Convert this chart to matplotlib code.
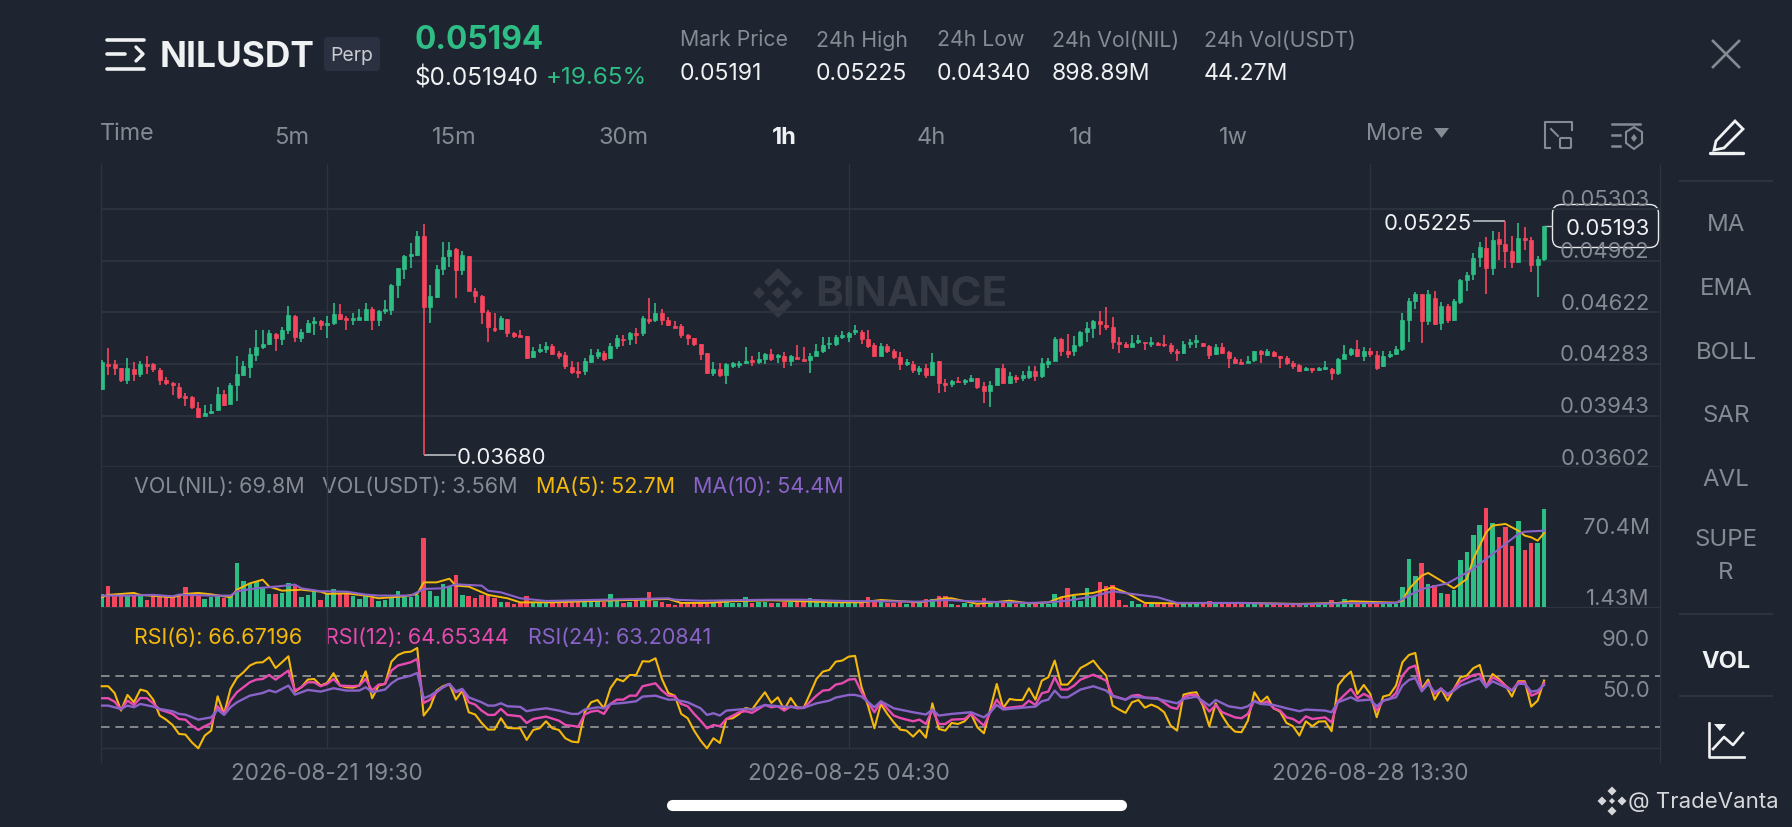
import matplotlib
matplotlib.use("Agg")
import matplotlib.pyplot as plt
from matplotlib.patches import FancyBboxPatch, Polygon

# === DATA (prices in 0.00001 units, volume in millions) ===
opens = [4119,4283,4279,4255,4180,4251,4218,4281,4279,4244,4178,4156,4130,4069,4064,3992,3939,3961,3976,4084,
         4016,4141,4213,4262,4343,4397,4411,4481,4448,4507,4601,4455,4492,4549,4562,4536,4551,4612,4584,4575,
         4575,4575,4641,4575,4628,4639,4803,4908,4992,5003,5123,4656,4726,4908,4990,5040,4898,4996,4766,4733,
         4623,4520,4514,4580,4485,4470,4465,4325,4369,4378,4400,4354,4343,4262,4233,4233,4294,4338,4354,4321,
         4400,4448,4444,4485,4485,4580,4575,4619,4569,4531,4531,4470,4452,4415,4354,4222,4251,4207,4272,4277,
         4288,4310,4294,4312,4349,4325,4334,4301,4327,4312,4308,4336,4367,4411,4411,4463,4461,4492,4496,4448,
         4404,4336,4400,4367,4327,4281,4279,4237,4255,4211,4299,4158,4150,4169,4163,4172,4187,4137,4104,4145,
         4255,4158,4196,4189,4194,4237,4202,4279,4303,4444,4365,4365,4404,4492,4518,4564,4540,4525,4426,4413,
         4393,4424,4428,4417,4422,4415,4404,4371,4354,4413,4426,4419,4400,4345,4391,4360,4316,4294,4290,4308,
         4369,4343,4360,4332,4323,4290,4275,4240,4255,4242,4246,4248,4222,4314,4345,4382,4332,4365,4343,4268,
         4332,4345,4378,4569,4698,4744,4562,4718,4553,4661,4569,4693,4832,4876,4985,5047,4915,5106,5073,5025,
         4955,5110,5101,4935,4974]
closes = [4294,4272,4257,4178,4255,4218,4283,4272,4246,4180,4156,4141,4064,4060,3998,3935,3961,3974,4086,4014,
          4141,4218,4266,4345,4393,4415,4487,4452,4509,4606,4459,4492,4553,4562,4536,4551,4612,4580,4569,4586,
          4590,4641,4575,4630,4643,4805,4911,4992,5005,5123,4656,4729,4908,4985,5036,4898,5001,4766,4733,4623,
          4525,4503,4584,4485,4465,4463,4321,4367,4382,4400,4349,4334,4266,4229,4224,4299,4343,4360,4312,4400,
          4455,4437,4485,4474,4584,4566,4619,4569,4536,4522,4470,4452,4415,4349,4222,4251,4207,4279,4290,4292,
          4305,4294,4316,4347,4312,4340,4305,4334,4312,4301,4334,4371,4404,4422,4461,4476,4487,4507,4448,4400,
          4332,4400,4369,4325,4279,4294,4240,4257,4213,4294,4156,4145,4172,4161,4178,4189,4130,4104,4145,4253,
          4158,4200,4185,4213,4237,4204,4286,4303,4448,4369,4351,4408,4490,4518,4562,4544,4527,4426,4411,4393,
          4422,4437,4419,4426,4404,4404,4369,4356,4415,4426,4437,4402,4343,4391,4356,4321,4290,4281,4305,4369,
          4345,4365,4334,4321,4286,4266,4235,4257,4240,4255,4262,4224,4314,4349,4378,4332,4365,4347,4259,4338,
          4349,4380,4573,4696,4744,4562,4744,4547,4661,4569,4698,4832,4871,4981,5051,4915,5101,5073,5025,4957,
          5110,5099,4935,4974,5193]
highs = [4310,4387,4310,4257,4323,4294,4301,4334,4288,4255,4196,4163,4156,4093,4069,4031,4014,4020,4130,4112,
         4156,4338,4305,4389,4507,4507,4503,4487,4525,4667,4606,4514,4573,4590,4569,4601,4683,4678,4601,4617,
         4641,4683,4656,4639,4705,4810,4915,5001,5077,5161,5205,4805,4935,5084,5084,5044,5025,4996,4783,4737,
         4639,4619,4597,4580,4496,4509,4465,4393,4415,4426,4415,4365,4360,4305,4294,4321,4382,4382,4371,4419,
         4474,4470,4492,4518,4595,4715,4685,4645,4593,4564,4544,4481,4455,4415,4354,4294,4290,4288,4294,4301,
         4393,4338,4360,4354,4382,4349,4360,4343,4408,4393,4354,4415,4463,4463,4476,4498,4492,4538,4509,4507,
         4419,4422,4417,4378,4360,4316,4299,4268,4279,4356,4303,4185,4178,4196,4185,4207,4191,4163,4167,4255,
         4281,4229,4211,4233,4268,4266,4321,4323,4459,4452,4481,4465,4498,4558,4569,4630,4656,4590,4463,4430,
         4474,4470,4430,4457,4426,4474,4419,4382,4433,4448,4476,4422,4408,4413,4422,4371,4329,4312,4338,4371,
         4373,4382,4367,4338,4334,4301,4279,4262,4257,4262,4301,4255,4321,4404,4389,4441,4397,4387,4365,4365,
         4365,4400,4617,4715,4755,4744,4770,4764,4689,4678,4707,4843,4891,5014,5088,5117,5156,5150,5225,5123,
         5211,5183,5117,4996,5194]
lows = [4108,4213,4207,4163,4152,4167,4196,4218,4229,4141,4141,4080,4049,4005,3983,3928,3937,3955,3972,4005,
        4014,4038,4200,4191,4299,4382,4404,4371,4408,4481,4430,4430,4487,4470,4503,4452,4540,4575,4503,4536,
        4569,4562,4503,4531,4612,4606,4718,4843,4913,4996,3680,4553,4718,4865,4924,4715,4869,4762,4685,4547,
        4426,4496,4503,4457,4452,4461,4316,4321,4354,4354,4343,4316,4246,4218,4191,4211,4290,4316,4299,4316,
        4378,4400,4408,4411,4465,4544,4558,4536,4531,4520,4452,4408,4400,4310,4215,4200,4196,4152,4255,4257,
        4283,4272,4279,4279,4303,4288,4257,4268,4308,4301,4226,4334,4354,4378,4400,4448,4426,4470,4415,4387,
        4325,4334,4356,4316,4244,4270,4222,4213,4189,4202,4093,4097,4130,4156,4141,4163,4119,4027,3998,4141,
        4150,4152,4154,4167,4183,4172,4191,4259,4299,4334,4321,4338,4393,4430,4452,4470,4503,4382,4354,4389,
        4393,4411,4376,4397,4402,4397,4349,4301,4349,4389,4387,4391,4312,4343,4349,4253,4283,4279,4288,4294,
        4288,4332,4329,4255,4277,4251,4229,4235,4226,4235,4244,4174,4211,4312,4338,4327,4301,4327,4244,4262,
        4323,4343,4371,4430,4641,4422,4536,4540,4509,4553,4564,4678,4766,4832,4919,4744,4869,4968,4913,4913,
        4952,5036,4891,4722,4963]
volumes = [9.5,15.4,8.3,7.8,7.8,7.8,7.8,5.2,8.3,7.1,7.1,7.1,9.5,14.2,9.0,7.8,6.2,7.1,7.8,6.4,
           8.3,31.2,18.5,16.6,17.7,14.2,9.5,9.5,10.2,17.3,15.4,7.6,9.0,11.8,5.4,9.9,13.0,9.9,9.5,7.8,
           5.9,8.3,6.4,4.3,5.4,6.4,11.8,7.1,7.1,8.8,49.2,11.8,8.3,16.6,14.7,23.2,8.8,7.8,6.6,8.8,
           8.8,6.4,3.5,3.5,2.4,2.8,8.0,3.5,3.5,4.0,3.5,3.1,5.4,4.3,4.3,3.5,4.3,4.3,3.5,9.5,
           4.7,3.1,4.0,5.4,4.7,11.1,4.3,3.5,2.4,1.9,2.8,2.8,2.8,3.1,2.8,3.1,2.8,5.4,3.1,2.8,
           7.3,3.1,3.5,3.5,3.3,3.3,3.5,3.5,3.8,4.3,6.6,4.7,4.3,3.5,2.8,2.8,3.1,2.8,3.1,7.1,
           4.5,4.7,2.8,2.8,3.5,2.4,2.8,2.8,5.7,5.9,7.8,8.3,2.6,1.7,2.8,2.6,1.9,6.4,2.8,2.8,
           4.3,3.3,2.4,2.4,3.1,2.8,2.8,2.6,9.5,7.6,13.5,8.3,4.3,13.5,8.3,17.7,15.4,16.1,5.4,1.9,
           4.3,2.4,2.4,2.4,2.4,2.4,2.4,2.4,2.4,2.6,2.8,3.3,4.7,2.8,3.1,3.1,3.3,2.4,2.4,2.4,
           2.1,2.1,2.1,2.1,2.1,2.1,2.1,2.1,2.1,2.1,2.1,5.0,2.4,5.7,2.4,3.1,2.8,2.8,2.8,2.8,
           2.8,2.4,14.7,34.3,22.0,31.5,16.6,15.6,10.2,9.2,12.3,33.8,39.5,51.3,58.4,70.5,59.6,50.2,56.8,43.3,
           61.5,40.7,45.7,45.7,69.8]

ma5_idx = [0,1,5,6,9,11,13,15,17,20,21,23,25,26,28,31,34,35,38,41,43,47,49,50,52,54,55,57,60,63,65,67,70,78,88,
           90,94,98,104,114,118,121,127,131,132,136,141,144,147,149,151,154,157,159,162,167,177,
           186,192,194,201,202,203,205,206,208,210,212,213,215,216,218,220,221,222,223,224]
ma5 = [7.1,8.8,10.2,8.8,7.8,7.1,9.5,10.2,9.2,7.1,12.5,17.0,19.6,14.7,11.8,12.5,11.1,9.5,9.9,8.3,6.4,7.8,9.5,17.7,17.7,20.3,15.4,14.7,8.8,6.4,3.5,3.5,3.5,4.7,5.9,
       3.1,3.1,4.3,5.0,3.5,3.5,5.2,3.5,6.4,6.4,2.4,4.7,2.8,3.5,7.1,8.8,10.2,14.2,10.6,3.1,2.8,3.1,
       2.4,3.1,4.3,3.3,4.7,13.0,22.5,24.4,18.9,13.5,20.1,34.3,53.2,58.0,59.2,54.4,50.9,49.7,47.3,52.7]
ma10_idx = [0,4,8,11,12,17,20,21,24,27,30,31,34,38,41,43,48,50,53,55,59,60,62,65,69,78,88,
            89,93,104,109,115,127,131,135,144,147,150,154,157,160,164,167,177,
            186,192,201,203,205,209,213,216,220,221,224]
ma10 = [8.3,8.3,8.8,7.8,9.0,8.3,8.3,11.4,13.5,14.7,16.1,13.5,11.4,11.1,9.0,8.3,8.3,13.0,13.5,16.3,15.4,11.8,10.6,6.4,4.5,5.4,6.4,
        5.4,4.7,5.4,5.4,4.5,4.0,5.2,4.3,3.1,3.5,4.7,7.8,11.4,9.5,7.1,3.1,3.1,
        2.1,2.8,3.1,8.3,13.0,17.0,27.2,37.9,52.1,53.7,54.4]

rsi6 = [62.2,62.2,56.9,43.1,55.4,49.6,59.6,58.2,51.7,39.2,36.0,31.8,24.8,24.3,18.2,13.5,23.5,27.4,54.3,40.5,
        60.1,68.7,73.1,78.4,80.7,81.0,84.9,76.5,81.0,85.7,58.0,61.4,67.4,67.9,62.7,64.8,72.4,62.7,61.4,61.1,
        62.7,73.9,52.8,62.7,64.0,81.5,86.7,88.8,89.3,92.2,39.2,45.7,58.8,62.2,64.0,51.7,58.8,41.8,40.0,33.4,
        28.2,28.2,37.1,29.5,29.2,29.2,20.1,27.9,29.2,34.7,29.2,27.9,21.4,18.8,18.2,41.8,49.6,51.4,44.9,60.6,
        67.9,66.1,71.0,71.0,81.8,81.5,84.1,67.9,56.9,54.8,40.5,37.1,27.4,19.6,13.5,21.4,17.7,36.5,37.1,40.5,
        45.2,43.9,50.9,57.5,49.1,53.5,43.9,53.0,45.7,45.2,56.2,67.9,73.7,75.0,81.5,82.3,85.4,86.0,61.4,47.0,
        29.2,48.3,40.5,33.9,28.2,27.4,22.7,27.9,21.9,48.8,28.7,27.4,33.4,32.6,34.7,40.5,30.0,25.3,44.4,64.0,
        45.2,52.2,51.4,51.4,60.6,51.7,66.6,69.2,82.3,63.5,63.5,69.2,76.5,79.2,82.3,75.8,70.5,47.0,43.9,41.3,
        49.6,51.4,45.4,47.8,45.7,41.8,31.3,27.4,55.6,56.9,57.5,47.0,30.8,48.8,39.2,31.3,26.6,26.1,35.2,57.5,
        49.6,54.1,44.9,42.3,33.4,30.8,23.5,34.7,30.8,34.5,34.7,26.9,62.7,69.2,73.7,56.2,63.2,56.2,37.9,54.1,
        55.4,62.7,81.0,86.7,88.3,60.1,67.4,51.7,60.1,50.9,60.1,69.2,70.5,76.3,78.9,61.4,71.8,67.9,62.7,54.1,
        66.1,66.1,46.2,50.9,66.67]

rsi12_idx = [0,1,2,3,4,5,6,7,8,9,10,11,12,13,14,15,16,17,18,19,20,21,22,23,24,25,26,27,29,30,31,32,33,34,35,36,37,39,40,41,42,43,44,45,46,48,49,
             50,51,52,53,54,55,56,57,58,59,60,61,62,63,65,66,67,69,71,72,74,75,76,77,78,79,80,81,82,83,84,86,87,88,
             89,90,91,92,93,94,95,96,97,99,100,101,103,104,105,106,107,108,109,111,112,113,114,115,116,117,118,120,121,123,124,126,127,128,129,130,131,132,134,135,137,138,139,140,143,144,145,146,147,148,149,150,151,152,154,156,157,159,160,161,162,164,166,167,168,169,170,172,173,174,176,
             177,178,179,180,181,182,183,184,185,186,187,188,190,191,192,193,194,195,196,197,198,199,200,201,202,203,204,205,206,207,208,209,210,211,213,214,215,216,217,218,219,220,221,222,223,224]
rsi12 = [52.8,52.8,50.1,43.9,50.9,47.5,53.0,52.8,48.8,43.9,42.3,40.5,36.5,36.0,31.3,27.9,30.8,33.2,46.5,40.5,50.9,57.5,61.4,65.3,67.4,67.9,71.0,67.4,74.5,58.8,61.4,65.3,65.3,62.2,64.0,67.9,62.7,62.2,62.7,67.9,58.8,63.5,64.0,74.5,78.4,81.0,83.6,
         49.1,51.7,57.5,61.4,64.0,57.5,59.6,49.6,47.8,43.1,39.7,39.7,44.4,39.7,38.6,33.4,36.5,38.4,35.2,31.8,30.5,40.0,42.3,43.1,40.5,48.3,51.7,51.7,54.8,54.8,62.2,64.5,58.8,54.8,
         54.3,48.3,46.5,40.5,35.2,29.2,31.8,30.8,36.5,41.8,42.6,41.3,47.5,45.7,46.5,43.1,46.5,44.9,45.2,54.8,58.8,59.3,63.5,64.5,67.4,67.9,57.5,41.8,50.1,39.2,37.3,34.7,36.0,32.6,43.9,32.6,32.6,36.0,36.5,40.5,31.3,41.8,51.7,44.9,46.5,50.9,47.5,56.7,58.0,69.2,59.6,59.6,62.7,67.4,71.3,66.6,54.8,51.7,54.8,55.4,53.3,52.8,45.7,44.4,53.5,55.4,55.4,42.3,47.5,41.8,37.8,
         37.1,40.5,50.9,48.3,50.4,44.9,43.1,37.8,36.5,33.4,38.6,36.5,37.8,33.9,50.4,55.4,60.1,52.8,56.2,53.5,43.1,50.9,52.2,56.9,70.5,76.5,78.4,58.8,65.3,56.2,60.6,54.8,60.1,65.8,71.0,71.8,62.2,69.2,66.6,62.7,58.8,65.3,65.3,54.8,56.9,64.65]

rsi24_idx = [0,1,3,4,5,6,8,9,11,12,13,15,17,18,19,20,21,23,25,26,27,29,30,32,34,36,38,40,41,42,44,45,46,48,49,50,51,53,54,55,56,57,59,60,61,62,63,65,66,67,69,71,73,74,75,77,78,79,81,83,84,86,88,
             89,91,93,94,95,96,97,100,101,103,105,109,111,113,114,116,117,118,120,121,123,126,128,129,130,132,135,137,138,139,140,143,145,146,147,148,149,150,152,154,156,157,159,160,164,167,168,170,172,173,175,177,
             178,179,180,182,184,186,187,190,191,192,194,195,197,198,199,201,202,203,204,205,206,207,208,209,210,211,213,214,215,216,218,219,220,221,222,223,224]
rsi24 = [47.0,47.0,44.4,47.0,45.7,48.3,46.2,44.4,42.6,40.5,39.9,36.0,37.8,43.9,39.7,45.7,49.6,54.8,56.9,59.0,57.5,62.7,55.6,59.3,58.0,60.6,58.8,58.8,61.4,57.5,59.6,64.5,67.9,70.5,72.6,52.8,54.8,61.4,64.0,58.2,60.1,53.5,49.6,47.0,47.0,48.8,46.5,46.0,42.6,43.6,44.9,43.1,40.5,40.5,43.9,45.7,44.9,48.3,49.1,50.4,54.1,54.8,51.7,
         51.7,49.6,44.9,39.7,41.0,39.2,43.1,44.4,43.9,47.5,46.5,45.2,48.8,50.9,53.3,55.4,55.4,54.1,45.7,50.4,44.9,41.8,40.0,43.9,39.2,40.5,41.8,37.8,41.8,47.5,43.9,45.4,46.2,50.4,51.7,58.8,53.5,53.5,59.6,62.2,58.8,54.3,51.7,54.1,52.2,48.8,52.2,54.1,47.0,51.4,46.5,44.9,
         46.5,50.4,48.3,47.5,44.9,42.6,43.9,43.1,41.8,49.6,53.5,50.9,51.7,46.5,50.9,53.5,62.7,67.1,68.7,58.2,64.0,57.5,60.1,56.2,58.8,62.7,66.6,68.4,61.4,66.1,61.4,58.8,64.0,64.0,58.0,58.8,63.20]

# tick values and labels
price_ticks = [5303, 4962, 4622, 4283, 3943, 3602]
vol_ticks = [70.4, 1.43]
vol_tick_labels = ["70.4M", "1.43M"]
rsi_ticks = [90, 50]
rsi_bands = [70, 30]
date_idx = [35, 116, 197]
date_labels = ["2026-08-21 19:30", "2026-08-25 04:30", "2026-08-28 13:30"]
low_idx, low_price = 50, 3680
high_idx, high_price = 218, 5225
last_price = 5193

stats_names = ["Mark Price", "24h High", "24h Low", "24h Vol(NIL)", "24h Vol(USDT)"]
stats_values = ["0.05191", "0.05225", "0.04340", "898.89M", "44.27M"]
intervals = ["5m", "15m", "30m", "1h", "4h", "1d", "1w"]
side_items = ["MA", "EMA", "BOLL", "SAR", "AVL"]

# === COLOURS ===
BG = "#1e2430"
GRID = "#2e343f"
GRAY = "#858a93"
WHITE = "#f0f1f3"
GREEN = "#2ebd85"
RED = "#f6465d"
YELLOW = "#f5b90c"
PINK = "#e84bb0"
PURPLE = "#8a63c8"

plt.rcParams["font.family"] = ["Inter", "DejaVu Sans"]

W, H = 1792, 828
fig = plt.figure(figsize=(W / 100, H / 100), dpi=100, facecolor=BG)

# pixel coordinates for everything that is not chart data
ui = fig.add_axes([0, 0, 1, 1], zorder=0, facecolor=BG)
ui.set_xlim(0, W)
ui.set_ylim(H, 0)
ui.axis("off")


def label(x, y, s, **kw):
    # text box centre sits a little above the glyphs, so push down
    kw.setdefault("va", "center")
    ui.text(x, y + 2.5, s, **kw)


def panel(top, bottom):
    a = fig.add_axes([101 / W, 1 - bottom / H, (1660 - 101) / W, (bottom - top) / H], zorder=1)
    a.patch.set_alpha(0)
    a.set_xlim(-0.11, 242.0)
    a.set_xticks(date_idx)
    a.set_xticklabels([])
    a.tick_params(length=0)
    a.grid(True, axis="x", color=GRID, lw=1.0)
    a.set_axisbelow(True)
    for s in a.spines.values():
        s.set_visible(False)
    return a


def right_labels(a, values, labels, dy, size=15.9):
    for v, lab in zip(values, labels):
        a.annotate(lab, (1, v), xycoords=a.get_yaxis_transform(), xytext=(-10.5, dy),
                   textcoords="offset pixels", ha="right", va="center", color=GRAY, fontsize=size)


ax_price = panel(165, 468.3)
ax_vol = panel(468.3, 608.3)
ax_rsi = panel(608.3, 749)

# === PRICE PANEL ===
xs = list(range(len(closes)))
colors = [GREEN if c >= o else RED for o, c in zip(opens, closes)]
ax_price.set_ylim(3602, 5599)
ax_price.set_yticks(price_ticks)
ax_price.set_yticklabels([])
ax_price.grid(True, axis="y", color=GRID, lw=1.3)
ax_price.vlines(xs, lows, highs, colors=colors, lw=1.2, zorder=3)
ax_price.bar(xs, [abs(c - o) for o, c in zip(opens, closes)], bottom=[min(o, c) for o, c in zip(opens, closes)],
             width=0.62, color=colors, edgecolor=colors, lw=0.5, zorder=4)
right_labels(ax_price, price_ticks, [f"0.0{v}" for v in price_ticks], 9.5)

ax_price.hlines(low_price, low_idx, low_idx + 5, color="#b9bcc2", lw=1.2, zorder=2)
ax_price.annotate(f"0.0{low_price}", (low_idx + 5, low_price), xytext=(1, -2), textcoords="offset pixels",
                  ha="left", va="center", color=WHITE, fontsize=15.9)
ax_price.hlines(high_price, high_idx - 5.1, high_idx, color="#b9bcc2", lw=1.2, zorder=2)
ax_price.annotate(f"0.0{high_price}", (high_idx - 5.1, high_price), xytext=(-1, -2), textcoords="offset pixels",
                  ha="right", va="center", color=WHITE, fontsize=15.9)
ax_price.hlines(last_price, xs[-1], xs[-1] + 1.3, color="#b9bcc2", lw=1.0, zorder=2)
ui.add_patch(FancyBboxPatch((1558, 211), 95, 32, boxstyle="round,pad=5.5,rounding_size=9", fc="none",
                            ec="#e8e9eb", lw=1.0, zorder=6))
ax_price.annotate(f"0.0{last_price}", (1, last_price), xycoords=ax_price.get_yaxis_transform(), xytext=(-10.5, -2.5),
                  textcoords="offset pixels", ha="right", va="center", color=WHITE, fontsize=15.9, zorder=7)

# === VOLUME PANEL ===
ax_vol.set_ylim(0, 99.4)
ax_vol.bar(xs, volumes, width=0.7, color=colors, zorder=3)
ax_vol.plot(ma5_idx, ma5, color=YELLOW, lw=1.4, zorder=4)
ax_vol.plot(ma10_idx, ma10, color=PURPLE, lw=1.5, zorder=5)
ax_vol.set_yticks([])
ax_vol.spines["bottom"].set_visible(True)
ax_vol.spines["bottom"].set_color(GRID)
ax_vol.spines["bottom"].set_linewidth(1.0)
ax_vol.annotate(vol_tick_labels[0], (1, vol_ticks[0]), xycoords=ax_vol.get_yaxis_transform(), xytext=(-10.5, -18.5),
                textcoords="offset pixels", ha="right", va="center", color=GRAY, fontsize=15.9)
ax_vol.annotate(vol_tick_labels[1], (1, vol_ticks[1]), xycoords=ax_vol.get_yaxis_transform(), xytext=(-10.5, 7.5),
                textcoords="offset pixels", ha="right", va="center", color=GRAY, fontsize=15.9)

# === RSI PANEL ===
ax_rsi.set_ylim(13.76, 124.1)
for band in rsi_bands:
    ax_rsi.axhline(band, color="#85878b", lw=1.4, dashes=(4.4, 3.0), zorder=2)
ax_rsi.plot(xs, rsi6, color=YELLOW, lw=1.5, zorder=4, clip_on=False)
ax_rsi.plot(rsi12_idx, rsi12, color=PINK, lw=1.7, zorder=5)
ax_rsi.plot(rsi24_idx, rsi24, color=PURPLE, lw=1.7, zorder=6)
ax_rsi.set_yticks([])
right_labels(ax_rsi, rsi_ticks, [f"{v:.1f}" for v in rsi_ticks], 11.5)
ax_rsi.spines["bottom"].set_visible(True)
ax_rsi.spines["bottom"].set_color(GRID)
ax_rsi.spines["bottom"].set_linewidth(1.0)
ax_rsi.set_xticklabels(date_labels, color=GRAY, fontsize=16.2)
ax_rsi.tick_params(axis="x", pad=10)

# chart frame lines that run below the axes
ui.plot([101, 101], [165, 763], color=GRID, lw=1.0)
ui.plot([1660, 1660], [165, 763], color=GRID, lw=1.0)

# === LEGENDS ===
label(133.5, 485, "VOL(NIL): 69.8M", color=GRAY, fontsize=15.5)
label(322, 485, "VOL(USDT): 3.56M", color=GRAY, fontsize=15.5)
label(536, 485, "MA(5): 52.7M", color=YELLOW, fontsize=15.5)
label(693, 485, "MA(10): 54.4M", color=PURPLE, fontsize=15.5)
label(133.5, 636, "RSI(6): 66.67196", color=YELLOW, fontsize=15.5)
label(325, 636, "RSI(12): 64.65344", color=PINK, fontsize=15.5)
label(528, 636, "RSI(24): 63.20841", color=PURPLE, fontsize=15.5)

# === BINANCE WATERMARK ===
mark = "#343943"
cx, cy = 778, 294
for dx, dy, r in [(0, 0, 6), (-19, 0, 6), (19, 0, 6)]:
    ui.add_patch(Polygon([(cx + dx - r, cy + dy), (cx + dx, cy + dy - r), (cx + dx + r, cy + dy), (cx + dx, cy + dy + r)],
                         fc=mark, ec="none"))
ui.add_patch(Polygon([(cx - 14, cy - 11), (cx, cy - 25), (cx + 14, cy - 11), (cx + 9, cy - 6), (cx, cy - 15), (cx - 9, cy - 6)], fc=mark, ec="none"))
ui.add_patch(Polygon([(cx - 14, cy + 11), (cx, cy + 25), (cx + 14, cy + 11), (cx + 9, cy + 6), (cx, cy + 15), (cx - 9, cy + 6)], fc=mark, ec="none"))
label(815, 293, "BINANCE", color=mark, fontsize=30.4, fontweight="bold")

# === HEADER ===
ui.plot([107, 144], [40.5, 40.5], color=WHITE, lw=2.6, solid_capstyle="round")
ui.plot([107, 125], [55, 55], color=WHITE, lw=2.6, solid_capstyle="round")
ui.plot([107, 144], [70, 70], color=WHITE, lw=2.6, solid_capstyle="round")
ui.plot([136, 143, 136], [48, 55, 62], color=WHITE, lw=2.4, solid_capstyle="round")
label(160, 55, "NILUSDT", color=WHITE, fontsize=25.4, fontweight="bold")
ui.add_patch(FancyBboxPatch((327, 41), 50, 28, boxstyle="round,pad=3,rounding_size=4", fc="#2b3140", ec="none"))
label(352, 53.5, "Perp", color="#c9ccd1", fontsize=14, ha="center")
label(414, 38, "0.05194", color=GREEN, fontsize=22.8, fontweight="bold")
label(414, 75.5, "$0.051940", color=WHITE, fontsize=17.5)
label(546, 75.5, "+19.65%", color=GREEN, fontsize=17.4)

stats_x = [680, 816, 937, 1052, 1204]
for x, name, val in zip(stats_x, stats_names, stats_values):
    label(x, 38, name, color=GRAY, fontsize=15.3)
    label(x, 71, val, color=WHITE, fontsize=16.6)

# X button
ui.plot([1713, 1739], [42, 68], color=GRAY, lw=1.9)
ui.plot([1739, 1713], [42, 68], color=GRAY, lw=1.9)

# === INTERVAL ROW ===
label(100, 131.5, "Time", color=GRAY, fontsize=16.8)
interval_x = [291.5, 454.5, 624, 784, 931, 1081, 1233]
for x, lab in zip(interval_x, intervals):
    active = lab == "1h"
    label(x, 135, lab, color=WHITE if active else GRAY, fontsize=17,
          fontweight="bold" if active else "normal", ha="center")
label(1366, 132, "More", color=GRAY, fontsize=16.8)
ui.add_patch(Polygon([(1434, 129), (1449, 129), (1441.5, 139)], fc=GRAY, ec="none"))

# layout and settings icons
ui.plot([1558, 1545, 1545, 1550], [123, 123, 149, 149], color=GRAY, lw=1.5)
ui.plot([1558, 1572, 1572], [123, 123, 131], color=GRAY, lw=1.5)
ui.add_patch(FancyBboxPatch((1560, 139), 11, 10, boxstyle="round,pad=0,rounding_size=1", fc="none", ec=GRAY, lw=1.5))
ui.plot([1551, 1558], [130, 137], color=GRAY, lw=1.5)
ui.plot([1612, 1640], [125, 125], color=GRAY, lw=1.8)
ui.plot([1612, 1620], [136, 136], color=GRAY, lw=1.8)
ui.plot([1612, 1620], [147, 147], color=GRAY, lw=1.8)
ui.add_patch(Polygon([(1634, 128), (1642, 133), (1642, 144), (1634, 150), (1626, 144), (1626, 133)], fc="none", ec=GRAY, lw=1.5))
ui.add_patch(Polygon([(1634, 135), (1637, 139), (1634, 143), (1631, 139)], fc=GRAY, ec="none"))

# === SIDEBAR ===
ui.add_patch(Polygon([(1716, 142), (1735, 122), (1743, 130), (1724, 149), (1714, 151)], fc="none", ec=WHITE, lw=2.0))
ui.plot([1710, 1743], [154, 154], color=WHITE, lw=2.4, solid_capstyle="round")
for y in [182, 615, 697]:
    ui.plot([1680, 1772], [y, y], color="#2e343f", lw=1.6)
for y, lab in zip([223, 287, 351, 414, 478], side_items):
    label(1726, y, lab, color=GRAY, fontsize=17.3, ha="center")
label(1726, 538, "SUPE", color=GRAY, fontsize=17.3, ha="center")
label(1726, 571, "R", color=GRAY, fontsize=17.3, ha="center")
label(1726, 660, "VOL", color=WHITE, fontsize=17, fontweight="bold", ha="center")
ui.plot([1709, 1709, 1744], [724, 758, 758], color=WHITE, lw=1.9)
ui.plot([1713, 1724, 1733, 1743], [750, 738, 746, 734], color=WHITE, lw=1.9)
ui.add_patch(Polygon([(1714, 725), (1726, 725), (1720, 732)], fc=WHITE, ec="none"))

# === FOOTER ===
ui.plot([672, 1121], [806, 806], color="white", lw=8, solid_capstyle="round")
label(1628, 800, "@ TradeVanta", color="#d6d7da", fontsize=16)
lx, ly = 1612, 802
for dx, dy in [(-10, 0), (10, 0), (0, -10), (0, 10)]:
    ui.add_patch(Polygon([(lx + dx - 4.5, ly + dy), (lx + dx, ly + dy - 4.5), (lx + dx + 4.5, ly + dy), (lx + dx, ly + dy + 4.5)], fc="#d6d7da", ec="none"))
ui.add_patch(Polygon([(lx - 3, ly), (lx, ly - 3), (lx + 3, ly), (lx, ly + 3)], fc="#d6d7da", ec="none"))

fig.savefig("out.png", dpi=100, facecolor=BG)
